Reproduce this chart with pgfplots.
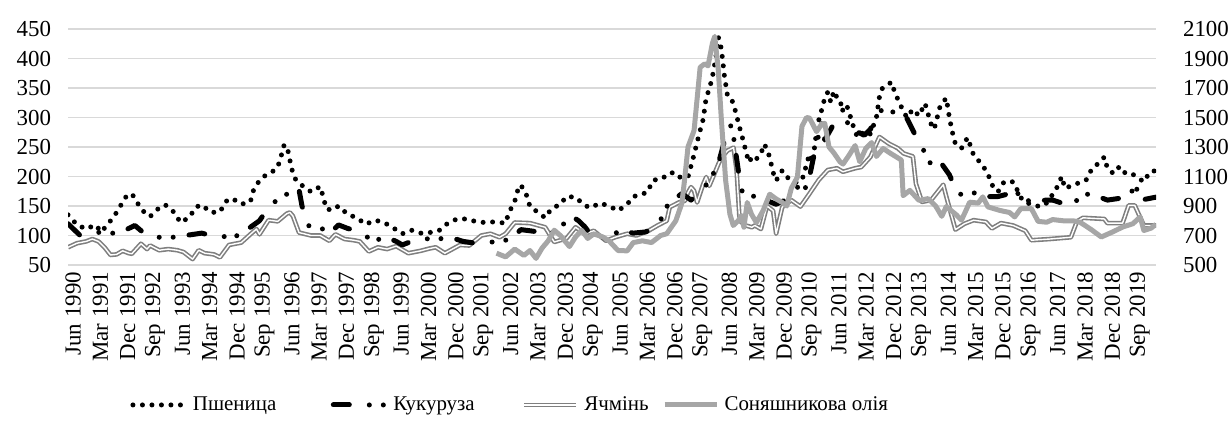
\documentclass[border=0pt]{standalone}
\usepackage{fontspec}
\setmainfont{Liberation Serif}
\usepackage{pgfplots}
\pgfplotsset{compat=1.18}
\usepackage{pgfplotstable}

\definecolor{gridc}{HTML}{D9D9D9}
\definecolor{barleyc}{HTML}{7F7F7F}
\definecolor{oilc}{HTML}{A6A6A6}

\pgfplotstableread{
m v
0 135
3 118
6 111
9 118
11 106
13 119
15 131
17 148
19 165
21 171
23 154
25 140
27 132
30 147
32 152
35 139
37 122
40 131
42 148
44 152
47 139
50 140
52 158
54 163
57 153
60 157
61 176
62 186
64 199
67 207
69 216
70 232
71 252
72 253
73 228
74 205
75 194
77 185
80 174
83 183
84 165
85 145
87 143
89 150
92 136
95 130
98 119
101 126
104 122
107 113
110 103
113 109
116 104
119 105
122 108
125 121
128 128
131 128
133 125
137 122
140 123
144 121
145 138
147 158
148 177
149 186
151 167
152 149
155 138
157 130
159 145
162 153
164 166
167 165
170 151
172 147
175 155
178 150
181 142
184 153
186 166
189 170
191 175
192 191
195 199
197 199
199 207
201 199
204 199
205 218
206 237
207 258
208 278
209 297
210 334
211 348
212 368
213 396
214 436
215 416
216 370
217 337
218 334
219 323
220 303
221 283
222 264
223 244
224 224
225 232
226 227
228 238
229 255
230 247
231 230
232 207
233 193
235 210
237 197
240 189
242 200
243 221
244 238
245 224
246 264
247 295
248 313
249 333
250 343
251 326
252 345
254 323
256 324
257 309
259 275
260 266
262 277
264 272
266 300
267 335
268 350
271 360
272 343
274 320
276 300
278 314
280 303
282 324
283 306
284 289
285 280
287 320
289 333
290 300
291 275
292 255
294 248
296 266
298 236
301 219
303 200
304 186
306 174
308 191
311 191
314 160
317 152
320 149
322 155
325 177
327 200
328 180
332 188
335 194
337 214
339 222
341 233
342 214
344 205
346 217
348 205
350 205
354 191
356 208
358 210
}\wheat

\pgfplotstableread{
m v
0 120
2 110
4 100
6 103
9 106
12 104
15 104
18 107
20 112
22 117
25 104
28 96
32 98
35 97
38 100
40 101
44 104
47 100
50 101
52 97
54 94
57 105
60 114
63 125
65 140
67 150
69 163
72 170
74 178
76 178
77 150
79 117
82 112
84 111
85 105
87 108
89 118
92 112
95 108
98 100
100 89
103 95
105 97
108 90
110 84
113 90
117 96
120 92
124 96
127 95
130 90
134 87
138 90
141 88
144 92
147 100
149 110
152 108
155 106
158 100
162 115
166 132
168 125
170 115
173 95
176 96
178 98
182 109
186 104
190 106
194 115
197 149
199 160
202 171
205 160
208 175
211 191
214 222
216 260
218 287
219 267
221 194
222 171
226 166
231 157
233 153
236 160
240 182
242 172
244 200
246 250
248 290
249 262
251 280
253 300
255 313
257 284
260 275
262 270
264 280
266 299
268 315
270 308
272 310
276 299
279 268
282 240
284 220
287 225
290 203
293 169
297 174
302 166
306 166
309 170
311 183
314 160
318 158
322 160
324 160
327 155
330 149
334 171
338 168
342 160
346 163
349 160
351 188
353 160
358 165
}\corn

\pgfplotstableread{
m v
0 80
3 87
6 90
8 94
10 90
12 80
14 67
16 68
18 74
20 70
21 69
24 86
26 77
27 83
30 75
33 77
36 75
38 72
41 60
43 75
45 70
48 68
50 63
53 84
57 88
60 102
62 111
63 102
66 126
69 124
72 137
73 139
74 133
76 105
80 100
83 100
86 91
88 102
91 94
94 92
96 90
99 73
102 80
105 77
108 82
112 70
116 74
119 78
121 80
124 70
129 84
132 83
136 100
139 103
142 97
144 103
147 122
152 121
157 114
160 89
164 95
167 114
170 103
173 108
177 91
180 97
184 103
187 100
191 108
194 117
197 125
198 148
201 156
203 159
204 173
205 182
206 176
207 156
209 187
210 199
211 184
212 196
214 221
215 232
217 244
219 249
220 210
221 125
223 117
225 114
226 117
228 111
230 150
232 142
233 103
235 148
238 160
241 149
244 171
247 194
250 211
253 214
255 208
259 214
261 216
264 233
267 267
270 256
273 248
275 239
278 234
279 188
281 157
284 160
288 186
289 166
292 110
295 120
298 126
302 123
304 112
307 121
311 117
315 108
317 92
323 94
330 97
332 124
334 130
341 128
342 121
347 121
349 151
351 151
354 117
358 117
}\barley

\pgfplotstableread{
m v
141 580
144 555
147 608
150 565
152 598
154 545
156 615
158 664
160 736
162 700
165 625
167 690
169 736
171 680
173 711
176 690
178 664
181 598
184 596
186 652
189 664
192 652
195 700
197 712
200 800
202 920
203 1100
204 1300
206 1412
208 1840
209.5 1864
210.6 1850
212 2000
212.8 2050
214 1816
215 1480
216.4 1072
217.8 844
218.9 768
220.5 800
221.6 836
222.4 756
223.5 924
224.9 844
226.5 788
228.7 868
230.9 980
233 948
235 924
236.5 900
238 1020
240 1096
241.5 1440
243 1500
244 1496
246.3 1404
248 1456
249 1460
250.4 1300
252 1260
254 1200
255 1184
257 1244
259 1310
260.5 1200
262.5 1290
264.4 1330
266 1236
268.2 1290
270.4 1260
272.6 1232
274.2 1212
274.8 970
277 1006
280 938
283 950
285.5 900
287.5 830
289 896
292.3 840
294 804
296.7 926
299.5 920
301 962
302.7 894
306.6 870
309.8 856
311.5 826
313.5 882
317 882
319.2 796
322 790
324 808
327.4 800
330.7 800
333 790
336.7 740
340 690
343.5 722
347.1 758
350.4 780
352.8 826
354 734
356.4 750
358 776
}\oil

\pgfplotsset{
  myax/.style={
    scale only axis, width=544bp, height=118bp,
    xmin=0, xmax=358,
    axis line style={draw=none}, tick style={draw=none},
    every tick label/.append style={font=\fontsize{11.5}{13}\selectfont},
    /pgf/number format/assume math mode=true,
    /pgf/number format/1000 sep={},
  },
  wheatst/.style={black, line width=2.5bp, line cap=round, line join=round, dash pattern=on 0bp off 4.75bp},
  cornst/.style={black, line width=2.5bp, line cap=round, line join=round, dash pattern=on 8bp off 10bp on 0bp off 7bp on 0bp off 8bp},
  barleyst/.style={draw=barleyc, line width=0.8bp, double=white, double distance=0.7bp, line join=round},
  oilst/.style={oilc, line width=2.5bp, line join=round},
}

\begin{document}
\begin{tikzpicture}
\begin{axis}[myax,
  ymin=50, ymax=450, ytick={50,100,...,450},
  ymajorgrids, grid style={gridc, line width=0.8bp},
  yticklabel style={xshift=-5bp},
  xtick={0,9,...,351},
  xticklabels={Jun 1990,Mar 1991,Dec 1991,Sep 1992,Jun 1993,Mar 1994,Dec 1994,Sep 1995,Jun 1996,Mar 1997,Dec 1997,Sep 1998,Jun 1999,Mar 2000,Dec 2000,Sep 2001,Jun 2002,Mar 2003,Dec 2003,Sep 2004,Jun 2005,Mar 2006,Dec 2006,Sep 2007,Jun 2008,Mar 2009,Dec 2009,Sep 2010,Jun 2011,Mar 2012,Dec 2012,Sep 2013,Jun 2014,Mar 2015,Dec 2015,Sep 2016,Jun 2017,Mar 2018,Dec 2018,Sep 2019},
  xticklabel style={rotate=90, anchor=east, yshift=-2.5bp},
]
\addplot[barleyst] table[x=m,y=v] {\barley};
\addplot[wheatst] table[x=m,y=v] {\wheat};
\addplot[cornst] table[x=m,y=v] {\corn};
\end{axis}
\begin{axis}[myax,
  axis y line*=right, hide x axis,
  ymin=500, ymax=2100, ytick={500,700,...,2100},
  yticklabel style={xshift=10bp},
  legend style={at={(0.0551,-0.593)}, anchor=west, inner sep=0pt, outer sep=0pt,
    draw=none, fill=none,
    legend columns=4, font=\fontsize{10.5}{12}\selectfont,
    nodes={inner sep=0pt},
    /tikz/every odd column/.append style={column sep=1.5bp},
    /tikz/column 2/.style={column sep=26bp},
    /tikz/column 4/.style={column sep=22.5bp},
    /tikz/column 6/.style={column sep=5.5bp}},
  legend cell align=left,
  legend image code/.code={\path (0bp,0bp) (28.5bp,0bp); \draw[#1] (1.25bp,0bp) -- (27.25bp,0bp);},
]
\addlegendimage{wheatst}
\addlegendentry{Пшеница}
\addlegendimage{cornst}
\addlegendentry{Кукуруза}
\addlegendimage{barleyst}
\addlegendentry{Ячмінь}
\addplot[oilst] table[x=m,y=v] {\oil};
\addlegendentry{Соняшникова олія}
\end{axis}
\pgfresetboundingbox
\path[use as bounding box] (-34bp,-79.5bp) rectangle (580bp,132.5bp);
\end{tikzpicture}
\end{document}
